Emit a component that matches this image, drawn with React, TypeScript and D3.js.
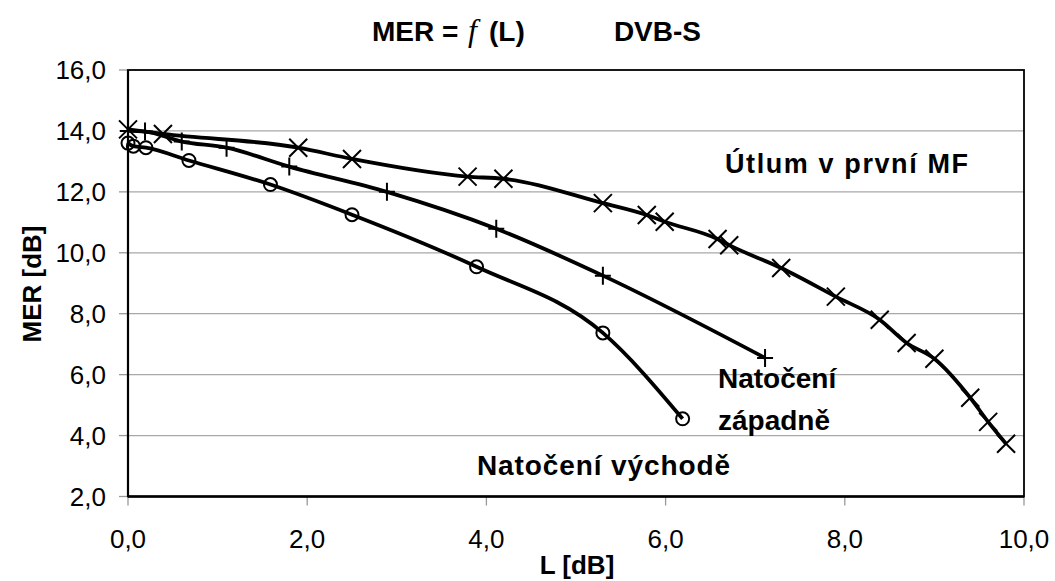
import React from "react";
import * as d3 from "d3";

const xTicks = [0, 2, 4, 6, 8, 10];
const yTicks = [2, 4, 6, 8, 10, 12, 14, 16];

const utlumL = [0, 0.39, 1.9, 2.5, 3.79, 4.19, 5.3, 5.79, 5.99, 6.58, 6.71, 7.29, 7.9, 8.39, 8.69, 9.0, 9.4, 9.6, 9.8];
const utlumMER = [14.05, 13.9, 13.45, 13.08, 12.5, 12.43, 11.63, 11.24, 11.02, 10.45, 10.25, 9.5, 8.56, 7.8, 7.04, 6.52, 5.24, 4.45, 3.73];

const zapadL = [0, 0.19, 0.6, 1.1, 1.8, 2.89, 4.11, 5.3, 7.11];
const zapadMER = [14.0, 13.98, 13.65, 13.45, 12.83, 12.0, 10.79, 9.25, 6.55];

const vychodL = [0, 0.06, 0.2, 0.68, 1.59, 2.5, 3.89, 5.3, 6.19];
const vychodMER = [13.6, 13.5, 13.45, 13.03, 12.24, 11.25, 9.54, 7.37, 4.55];

const FONT = "'Liberation Sans', Arial, sans-serif";

export default function App() {
  const W = 1055, H = 581;
  const x = d3.scaleLinear().domain([0, 10]).range([128, 1024]);
  const y = d3.scaleLinear().domain([2, 16]).range([496.5, 70]);
  const line = d3
    .line<[number, number]>()
    .x((d) => x(d[0]))
    .y((d) => y(d[1]))
    .curve(d3.curveMonotoneX);

  const zip = (a: number[], b: number[]) => a.map((v, i) => [v, b[i]] as [number, number]);
  const sU = zip(utlumL, utlumMER);
  const sZ = zip(zapadL, zapadMER);
  const sV = zip(vychodL, vychodMER);

  return (
    <svg width={W} height={H} style={{ position: "absolute", left: 0, top: 0, background: "#fff" }}>
      <rect x={0} y={0} width={W} height={H} fill="#fff" />
      {/* gridlines */}
      {yTicks.slice(1, -1).map((t) => (
        <line key={"g" + t} x1={x(0)} x2={x(10)} y1={y(t)} y2={y(t)} stroke="#a8a8a8" strokeWidth={1.3} />
      ))}
      {/* ticks */}
      {yTicks.map((t) => (
        <line key={"yt" + t} x1={x(0) - 9} x2={x(0)} y1={y(t)} y2={y(t)} stroke="#999" strokeWidth={1.3} />
      ))}
      {xTicks.map((t) => (
        <line key={"xt" + t} x1={x(t)} x2={x(t)} y1={y(2)} y2={y(2) + 9} stroke="#999" strokeWidth={1.3} />
      ))}
      {/* frame */}
      <rect x={x(0)} y={y(16)} width={x(10) - x(0)} height={y(2) - y(16)} fill="none" stroke="#000" strokeWidth={1.8} />
      <line x1={x(0)} x2={x(10)} y1={y(2)} y2={y(2)} stroke="#000" strokeWidth={2.5} />
      <line x1={x(0)} x2={x(0)} y1={y(16)} y2={y(2)} stroke="#000" strokeWidth={2.2} />

      {/* tick labels */}
      {yTicks.map((t) => (
        <text key={"yl" + t} x={106} y={y(t)} dy="0.36em" textAnchor="end" fontFamily={FONT} fontSize={26} fill="#000">
          {d3.format(".1f")(t).replace(".", ",")}
        </text>
      ))}
      {xTicks.map((t) => (
        <text key={"xl" + t} x={x(t)} y={548} textAnchor="middle" fontFamily={FONT} fontSize={26} fill="#000">
          {d3.format(".1f")(t).replace(".", ",")}
        </text>
      ))}

      {/* axis titles */}
      <text x={577} y={574} textAnchor="middle" fontFamily={FONT} fontSize={26} fontWeight="bold">L [dB]</text>
      <text transform="translate(41,284) rotate(-90)" textAnchor="middle" fontFamily={FONT} fontSize={26} fontWeight="bold">MER [dB]</text>

      {/* title */}
      <text x={372} y={41} fontFamily={FONT} fontSize={28} fontWeight="bold">MER =</text>
      <text x={468} y={41} fontFamily="'Liberation Serif', 'Times New Roman', serif" fontSize={32} fontStyle="italic">f</text>
      <text x={489} y={41} fontFamily={FONT} fontSize={28} fontWeight="bold">(L)</text>
      <text x={701} y={41} textAnchor="end" fontFamily={FONT} fontSize={28} fontWeight="bold">DVB-S</text>

      {/* curves */}
      {[sU, sZ, sV].map((s, i) => (
        <path key={"c" + i} d={line(s) || ""} fill="none" stroke="#000" strokeWidth={3.8} strokeLinejoin="round" />
      ))}

      {/* markers */}
      {sU.map((d, i) => (
        <path key={"mu" + i} d={`M${x(d[0]) - 9},${y(d[1]) - 9}L${x(d[0]) + 9},${y(d[1]) + 9}M${x(d[0]) - 9},${y(d[1]) + 9}L${x(d[0]) + 9},${y(d[1]) - 9}`} stroke="#000" strokeWidth={2} fill="none" />
      ))}
      {sZ.map((d, i) => (
        <path key={"mz" + i} d={`M${x(d[0]) - 8},${y(d[1])}L${x(d[0]) + 8},${y(d[1])}M${x(d[0])},${y(d[1]) - 9}L${x(d[0])},${y(d[1]) + 9}`} stroke="#000" strokeWidth={2} fill="none" />
      ))}
      {sV.map((d, i) => (
        <circle key={"mv" + i} cx={x(d[0])} cy={y(d[1])} r={6.5} stroke="#000" strokeWidth={2} fill="none" />
      ))}

      {/* series labels */}
      <text x={725} y={173} fontFamily={FONT} fontSize={27} fontWeight="bold" textLength={243} lengthAdjust="spacing">Útlum v první MF</text>
      <text x={718} y={388} fontFamily={FONT} fontSize={28} fontWeight="bold">Natočení</text>
      <text x={718} y={430} fontFamily={FONT} fontSize={28} fontWeight="bold">západně</text>
      <text x={477} y={475} fontFamily={FONT} fontSize={28} fontWeight="bold" textLength={253} lengthAdjust="spacing">Natočení východě</text>
    </svg>
  );
}
